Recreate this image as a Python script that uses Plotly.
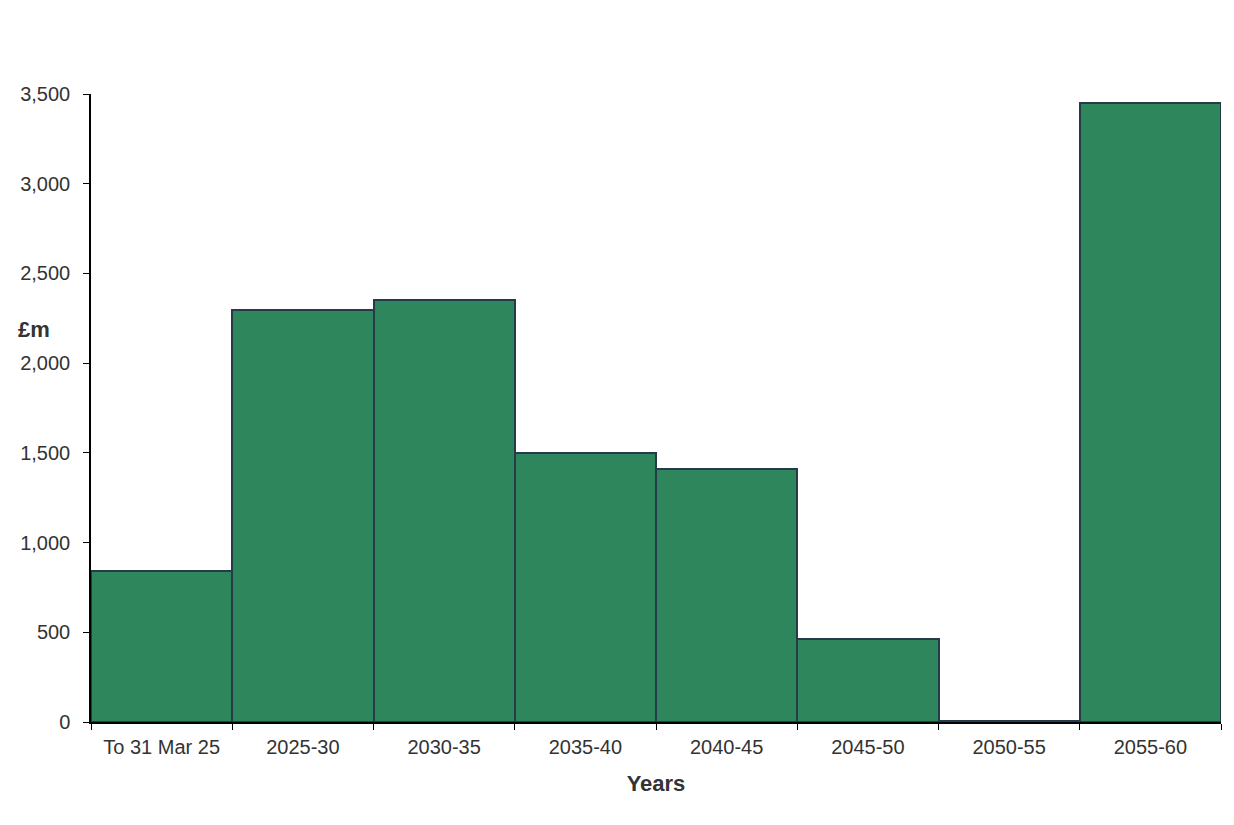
import plotly.graph_objects as go

# Data (£m)
periods = ["To 31 Mar 25", "2025-30", "2030-35", "2035-40",
           "2040-45", "2045-50", "2050-55", "2055-60"]
amounts = [840, 2295, 2352, 1500, 1410, 463, 8, 3450]
y_ticks = [0, 500, 1000, 1500, 2000, 2500, 3000, 3500]

BAR_GREEN = "#2e875c"
BAR_EDGE = "#253b4a"
TEXT = "#333333"

fig = go.Figure(
    go.Bar(
        x=periods,
        y=amounts,
        marker=dict(color=BAR_GREEN, line=dict(color=BAR_EDGE, width=2)),
        hoverinfo="x+y",
    )
)

# page body adds 8px, so the figure is sized/margined to compensate
fig.update_layout(
    width=1226,
    height=817,
    margin=dict(l=83, r=13, t=86, b=103),
    plot_bgcolor="white",
    paper_bgcolor="white",
    bargap=0,
    showlegend=False,
    font=dict(family="Liberation Sans, Arial, sans-serif", size=20, color=TEXT),
)

fig.update_xaxes(
    range=[-0.5, 7.5],
    showline=True,
    linecolor="black",
    linewidth=1.5,
    ticks="outside",
    tickson="boundaries",
    ticklen=6,
    tickcolor="black",
    ticklabelstandoff=6,
    showgrid=False,
    title=dict(text="<b>Years</b>", font=dict(size=22, color=TEXT), standoff=19),
)

fig.update_yaxes(
    range=[0, 3500],
    tickvals=y_ticks,
    tickformat=",",
    showline=True,
    linecolor="black",
    linewidth=1.5,
    ticks="outside",
    ticklen=6,
    tickcolor="black",
    ticklabelstandoff=9,
    showgrid=False,
    zeroline=False,
)

# "£m" axis label sits horizontally to the left of the axis
fig.add_annotation(
    text="<b>£m</b>",
    xref="paper", yref="y",
    x=-0.066, y=2190,
    xanchor="left", yanchor="middle",
    showarrow=False,
    font=dict(size=22, color=TEXT),
)

fig.write_html("out.html")
